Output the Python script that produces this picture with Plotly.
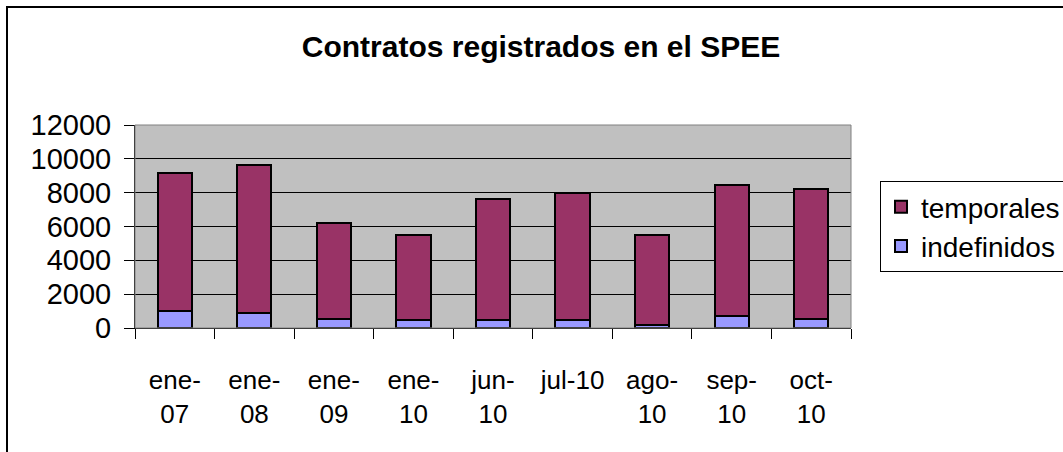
import plotly.graph_objects as go

categories = ["ene-07", "ene-08", "ene-09", "ene-10", "jun-10", "jul-10", "ago-10", "sep-10", "oct-10"]
tick_labels = ["ene-<br>07", "ene-<br>08", "ene-<br>09", "ene-<br>10", "jun-<br>10", "jul-10", "ago-<br>10", "sep-<br>10", "oct-<br>10"]
indefinidos = [1000, 900, 550, 450, 450, 450, 200, 700, 550]
temporales = [8150, 8750, 5650, 5050, 7200, 7550, 5300, 7750, 7650]

W, H = 1063, 452
L, R, T, B = 135, 212, 125, 124
pw, ph = W - L - R, H - T - B

def px_x(x):
    return (x - L) / pw

def px_y(y):
    return (H - B - y) / ph

fig = go.Figure()
fig.add_trace(go.Bar(x=categories, y=indefinidos, name="indefinidos",
                     marker=dict(color="#9999FF", line=dict(color="black", width=2))))
fig.add_trace(go.Bar(x=categories, y=temporales, name="temporales",
                     marker=dict(color="#993366", line=dict(color="black", width=2))))

fig.update_layout(
    width=W, height=H,
    margin=dict(l=L, r=R, t=T, b=B, pad=0, autoexpand=False),
    barmode="stack", bargap=0.57,
    paper_bgcolor="white", plot_bgcolor="#C0C0C0",
    font=dict(family="Liberation Sans, Arial, sans-serif", color="black", size=26),
    title=dict(text="<b>Contratos registrados en el SPEE</b>", x=541 / W, xanchor="center",
               y=1 - 46 / H, yanchor="middle", yref="container",
               font=dict(size=30, family="Liberation Sans, Arial, sans-serif", color="black")),
    legend=dict(traceorder="reversed", x=px_x(880), y=px_y(181), xanchor="left", yanchor="top",
                bordercolor="black", borderwidth=1, bgcolor="white",
                font=dict(size=28), itemwidth=30, tracegroupgap=0),
    showlegend=True,
)
fig.update_xaxes(type="category", tickmode="array", tickvals=categories, ticktext=tick_labels,
                 tickson="boundaries", ticks="outside", ticklen=10, tickcolor="black",
                 showline=True, linecolor="black", linewidth=1, showgrid=False,
                 ticklabelstandoff=29, tickfont=dict(size=26))
fig.update_yaxes(range=[0, 12000], tickmode="linear", dtick=2000, tick0=0, tickformat="d",
                 ticks="outside", ticklen=10, tickcolor="black",
                 showline=True, linecolor="black", linewidth=1,
                 showgrid=True, gridcolor="black", gridwidth=1, zeroline=False,
                 ticklabelstandoff=7, tickfont=dict(size=29))

# plot-area frame (top/right grey)
fig.add_shape(type="rect", xref="paper", yref="paper", x0=0, x1=1, y0=0, y1=1,
              line=dict(color="#808080", width=1), layer="above")
# outer chart border: top edge placed in pixels above the plot top
fig.add_shape(type="line", xref="paper", yref="paper", ysizemode="pixel", yanchor=1,
              x0=px_x(6), x1=px_x(1100), y0=T - 7, y1=T - 7,
              line=dict(color="black", width=2))
# left edge
fig.add_shape(type="line", xref="paper", yref="paper", x0=px_x(7), x1=px_x(7),
              y0=px_y(6), y1=px_y(500), line=dict(color="black", width=2))

fig.write_html("out.html", config={"displayModeBar": False},
               post_script="document.body.style.margin='0';")
